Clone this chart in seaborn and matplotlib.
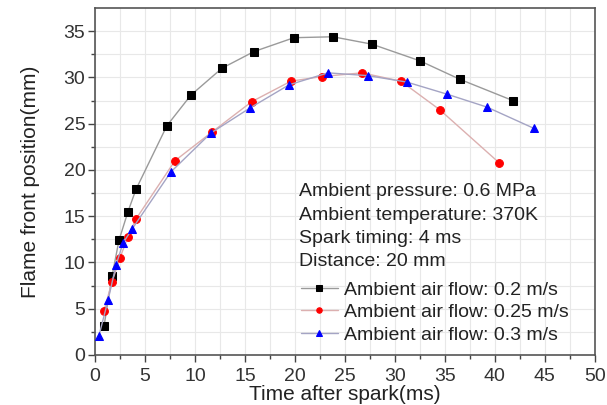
import numpy as np
import pandas as pd
import matplotlib
matplotlib.use("Agg")
import matplotlib.pyplot as plt
import seaborn as sns

# flame front position vs time, three ambient air flow speeds
t_02 = [0.9, 1.7, 2.4, 3.3, 4.1, 7.2, 9.6, 12.7, 15.9, 19.9, 23.8, 27.7, 32.5, 36.5, 41.8]
y_02 = [3.1, 8.5, 12.4, 15.5, 17.9, 24.8, 28.1, 31.0, 32.8, 34.3, 34.4, 33.6, 31.8, 29.8, 27.5]

t_025 = [0.9, 1.7, 2.5, 3.3, 4.1, 8.0, 11.7, 15.7, 19.6, 22.7, 26.7, 30.6, 34.5, 40.4]
y_025 = [4.8, 7.9, 10.5, 12.8, 14.7, 21.0, 24.1, 27.4, 29.6, 30.1, 30.5, 29.6, 26.5, 20.8]

t_03 = [0.4, 1.3, 2.1, 2.8, 3.7, 7.6, 11.6, 15.5, 19.4, 23.3, 27.3, 31.2, 35.2, 39.2, 43.9]
y_03 = [2.1, 5.9, 9.7, 12.1, 13.6, 19.8, 24.0, 26.7, 29.2, 30.5, 30.2, 29.5, 28.2, 26.8, 24.5]

labels = ["Ambient air flow: 0.2 m/s", "Ambient air flow: 0.25 m/s", "Ambient air flow: 0.3 m/s"]
conditions = ["Ambient pressure: 0.6 MPa", "Ambient temperature: 370K",
              "Spark timing: 4 ms", "Distance: 20 mm"]

sns.set_style("white")
plt.rcParams['font.family'] = ['Liberation Sans', 'DejaVu Sans']

fig = plt.figure(figsize=(6.07, 4.05), dpi=100)
ax = fig.add_axes([0.1565, 0.1235, 0.8235, 0.8565])

series = [
    (t_02, y_02, "s", 5.2, "black", "#9a9a9a"),
    (t_025, y_025, "o", 5.6, "red", "#dcb0b0"),
    (t_03, y_03, "^", 6.2, "blue", "#a4a4c4"),
]
for (t, y, m, ms, mc, lc), lab in zip(series, labels):
    df = pd.DataFrame({"t": t, "y": y})
    sns.lineplot(data=df, x="t", y="y", sort=False, ax=ax, color=lc, lw=1.0,
                 marker=m, markersize=ms, markerfacecolor=mc, markeredgecolor=mc,
                 label=lab, zorder=3)

ax.set_xlim(0, 50)
ax.set_ylim(0, 37.5)
ax.set_xticks(np.arange(0, 51, 5))
ax.set_yticks(np.arange(0, 36, 5))
ax.set_xticks(np.arange(2.5, 50, 5), minor=True)
ax.set_yticks(np.arange(2.5, 37.5, 5), minor=True)
ax.grid(True, which="both", color="#e8e8e8", lw=0.8, zorder=0)
ax.tick_params(axis="both", which="major", direction="out", length=5, width=1,
               color="#444444", labelsize=14, pad=2, bottom=True, left=True,
               labelcolor="#333333")
ax.tick_params(axis="x", which="major", pad=4.5)
ax.tick_params(axis="both", which="minor", direction="out", length=3, width=1,
               color="#444444", bottom=True, left=True)
for s in ax.spines.values():
    s.set_color("#555555")
    s.set_linewidth(1.2)

ax.set_xlabel("Time after spark(ms)", fontsize=15, labelpad=0, color="#222222")
ax.set_ylabel("Flame front position(mm)", fontsize=15, labelpad=17, color="#222222")

for i, txt in enumerate(conditions):
    ax.text(0.409, 0.4706 - i * 0.0672, txt, transform=ax.transAxes,
            fontsize=14, va="center", ha="left", color="#222222")

ax.legend(loc="upper left", bbox_to_anchor=(0.412, 0.213), frameon=False,
          fontsize=14, handlelength=1.9, handletextpad=0.3, labelspacing=0.25,
          borderpad=0.0, borderaxespad=0.0, markerscale=0.7, labelcolor="#222222")

fig.savefig("out.png", dpi=100)
